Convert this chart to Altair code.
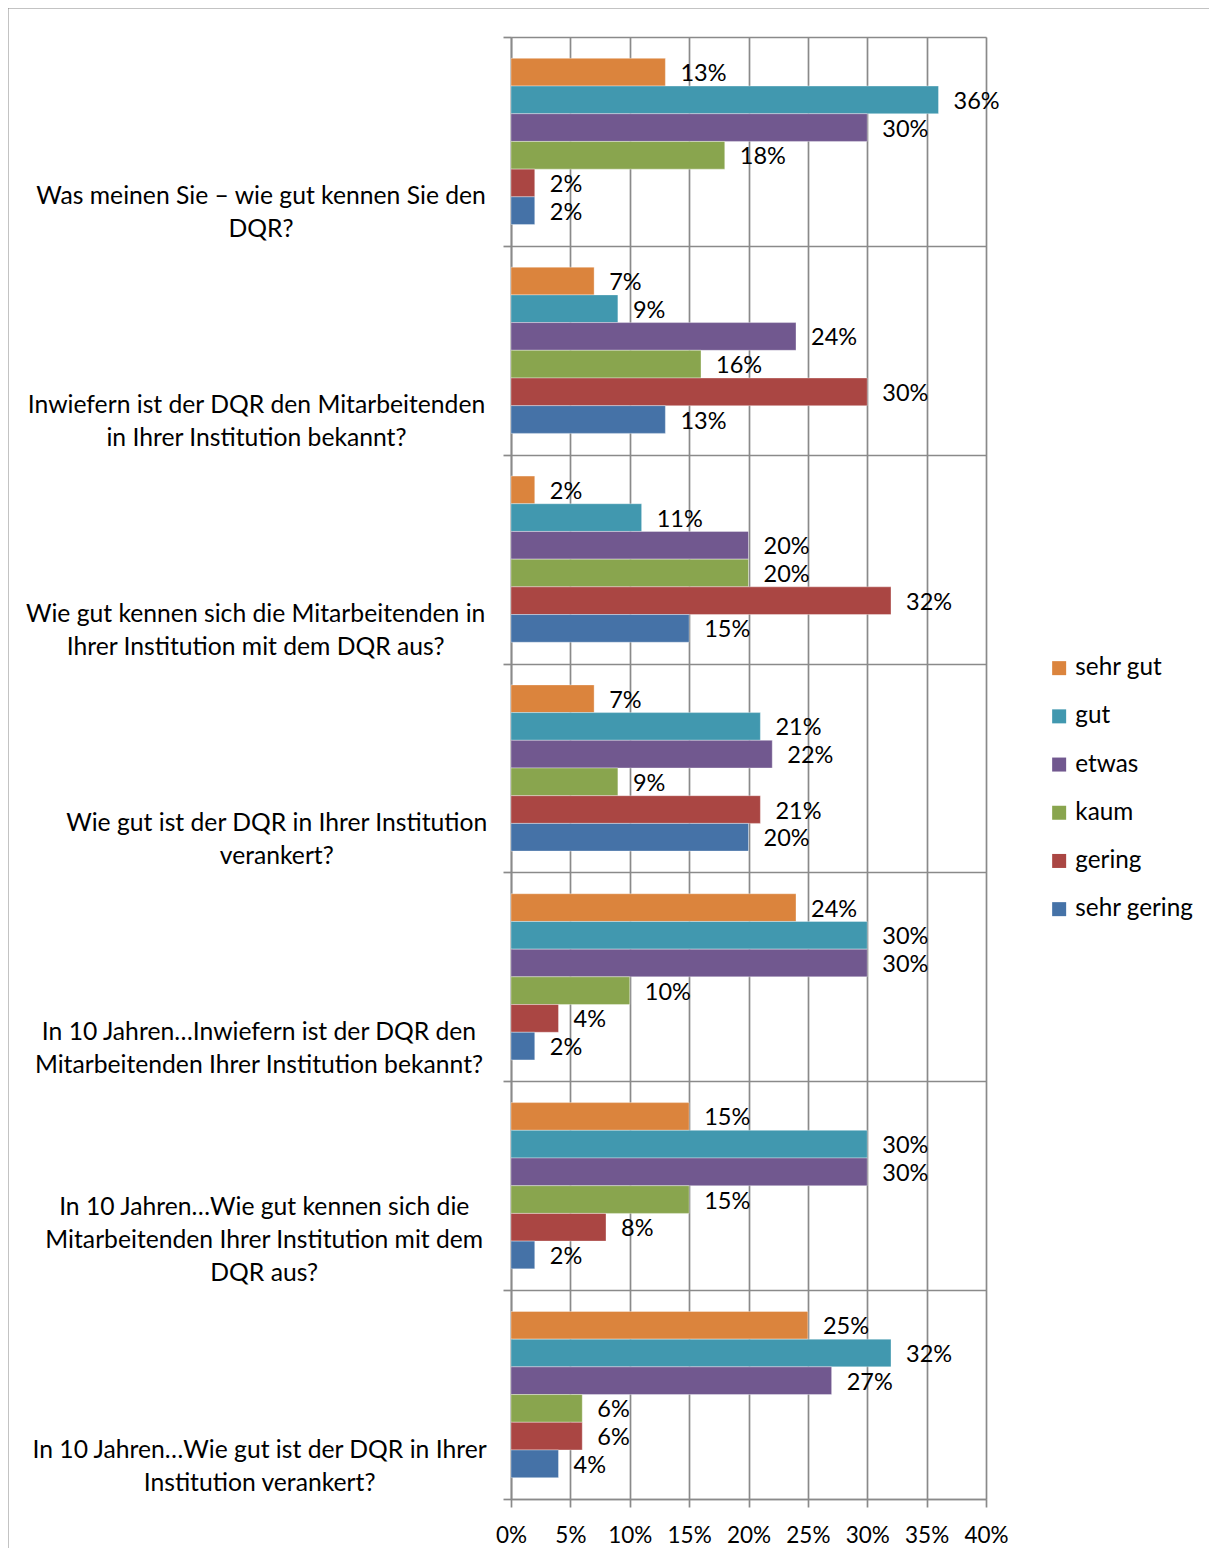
import altair as alt
import pandas as pd

categories = [
    "Was meinen Sie – wie gut kennen Sie den\nDQR?",
    "Inwiefern ist der DQR den Mitarbeitenden\nin Ihrer Institution bekannt?",
    "Wie gut kennen sich die Mitarbeitenden in\nIhrer Institution mit dem DQR aus?",
    "Wie gut ist der DQR in Ihrer Institution\nverankert?",
    "In 10 Jahren…Inwiefern ist der DQR den\nMitarbeitenden Ihrer Institution bekannt?",
    "In 10 Jahren…Wie gut kennen sich die\nMitarbeitenden Ihrer Institution mit dem\nDQR aus?",
    "In 10 Jahren…Wie gut ist der DQR in Ihrer\nInstitution verankert?",
]
series = ["sehr gut", "gut", "etwas", "kaum", "gering", "sehr gering"]
colors = ["#DB843D", "#4198AF", "#71588F", "#89A54E", "#AA4643", "#4572A7"]

sehr_gut = [13, 7, 2, 7, 24, 15, 25]
gut = [36, 9, 11, 21, 30, 30, 32]
etwas = [30, 24, 20, 22, 30, 30, 27]
kaum = [18, 16, 20, 9, 10, 15, 6]
gering = [2, 30, 32, 21, 4, 8, 6]
sehr_gering = [2, 13, 15, 20, 2, 2, 4]
x_ticks = [0, 5, 10, 15, 20, 25, 30, 35, 40]

FONT = "Lato"
CAT_FS = 24.7
GRID = "#8a8a8a"
LW = 1.7

# approximate advance widths (em) of the label font, used to centre the
# lines of each label inside a right-aligned block (as in the original)
_W_EM = {' ': .193, 'a': .49, 'b': .55, 'c': .45, 'd': .55, 'e': .51, 'f': .32,
         'g': .50, 'h': .55, 'i': .24, 'j': .24, 'k': .49, 'l': .24, 'm': .83,
         'n': .55, 'o': .55, 'p': .55, 'r': .36, 's': .41, 't': .34, 'u': .55,
         'v': .49, 'w': .75, 'z': .44, 'W': .97, 'S': .52, 'D': .72, 'Q': .76,
         'R': .58, 'I': .27, 'M': .88, 'J': .36, '?': .42, '.': .24, '…': .72,
         '–': .56, '0': .58, '1': .58}


def text_width(s):
    return sum(_W_EM.get(ch, .52) for ch in s) * CAT_FS * 1.044


values = [sehr_gut, gut, etwas, kaum, gering, sehr_gering]
rows = []
for s, vals in zip(series, values):
    for c, v in zip(categories, vals):
        rows.append({"category": c, "series": s, "value": v, "label": f"{v}%"})
df = pd.DataFrame(rows)

LABEL_RIGHT = -26  # right edge of the label block, relative to the plot's left edge
cat_df = pd.DataFrame({
    "category": categories,
    "cx": [LABEL_RIGHT - max(text_width(l) for l in c.split("\n")) / 2 for c in categories],
})

y_enc = alt.Y(
    "category:N",
    sort=categories,
    scale=alt.Scale(paddingInner=0, paddingOuter=0),
    axis=alt.Axis(
        title=None,
        labels=False,
        tickBand="extent",
        grid=True,
        gridColor=GRID,
        gridWidth=LW,
        tickColor=GRID,
        tickWidth=LW,
        tickSize=8,
        domainColor=GRID,
        domainWidth=LW,
    ),
)
yoff = alt.YOffset(
    "series:N", sort=series, scale=alt.Scale(paddingInner=0, paddingOuter=0.77)
)

bars = alt.Chart(df).mark_bar(
    stroke="#ffffff", strokeOpacity=0.35, strokeWidth=1
).encode(
    x=alt.X(
        "value:Q",
        scale=alt.Scale(domain=[0, 40], nice=False),
        axis=alt.Axis(
            title=None,
            values=x_ticks,
            labelExpr="datum.value + '%'",
            labelOverlap=False,
            labelFlush=False,
            grid=True,
            gridColor=GRID,
            gridWidth=LW,
            tickColor=GRID,
            tickWidth=LW,
            tickSize=8,
            domainColor=GRID,
            domainWidth=LW,
            labelFontSize=22.5,
            labelFont=FONT,
            labelColor="#000000",
            labelPadding=17,
        ),
    ),
    y=y_enc,
    yOffset=yoff,
    color=alt.Color(
        "series:N",
        sort=series,
        scale=alt.Scale(domain=series, range=colors),
        legend=alt.Legend(
            title=None,
            orient="none",
            legendX=536,
            legendY=619,
            symbolType="square",
            symbolSize=196,
            symbolStrokeWidth=0,
            labelFont=FONT,
            labelFontSize=24.3,
            labelColor="#000000",
            labelOffset=4,
            rowPadding=23.2,
        ),
    ),
)

texts = alt.Chart(df).mark_text(
    align="left", baseline="middle", dx=15, dy=2, font=FONT, fontSize=23.5, color="#000000"
).encode(
    x="value:Q",
    y=alt.Y("category:N", sort=categories),
    yOffset=yoff,
    text="label:N",
)


def cat_layer(n_lines, dy):
    return alt.Chart(cat_df).transform_filter(
        f"split(datum.category, '\\n').length == {n_lines}"
    ).mark_text(
        align="center", baseline="alphabetic", lineBreak="\n", lineHeight=33,
        font=FONT, fontSize=CAT_FS, color="#000000", dy=dy,
    ).encode(
        x=alt.X("cx:Q", scale=None),
        y=alt.Y("category:N", sort=categories),
        text="category:N",
    )


cat2 = cat_layer(2, 63)
cat3 = cat_layer(3, 29)

frame_src = alt.Chart(pd.DataFrame({"f": [0]}))
frame_left = frame_src.mark_rule(color="#888888", strokeWidth=2).encode(
    x=alt.value(-503.5), y=alt.value(-29.5), y2=alt.value(1700)
)
frame_top = frame_src.mark_rule(color="#888888", strokeWidth=2).encode(
    x=alt.value(-503.5), x2=alt.value(900), y=alt.value(-29.5)
)

chart = alt.layer(frame_left, frame_top, bars, texts, cat2, cat3).properties(
    width=475,
    height=1462,
    autosize=alt.AutoSizeParams(type="none"),
    padding={"left": 503, "top": 29, "right": 223, "bottom": 49},
).configure_view(stroke=None).configure(background="white")

chart.save("out.html", embed_options={"renderer": "svg", "actions": False})
